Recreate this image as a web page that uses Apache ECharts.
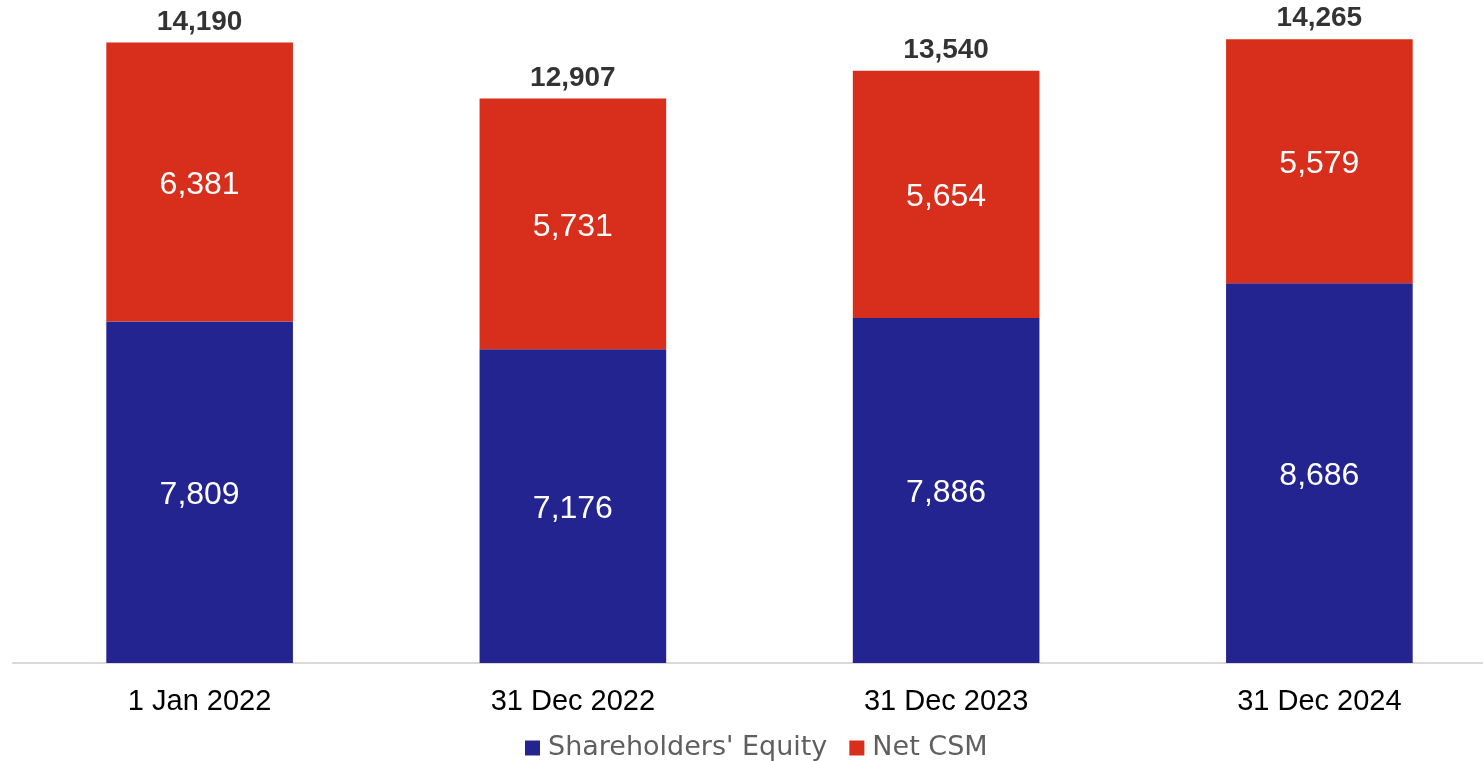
<!DOCTYPE html>
<html>
<head>
<meta charset="utf-8">
<script src="https://cdn.jsdelivr.net/npm/echarts@6/dist/echarts.min.js"></script>
<style>
  html, body { margin: 0; padding: 0; background: #ffffff; overflow: hidden; }
  #chart { width: 1510px; height: 761px; }
</style>
</head>
<body>
<div id="chart"></div>
<script>
// Reporting dates on the x axis
const categories = ['1 Jan 2022', '31 Dec 2022', '31 Dec 2023', '31 Dec 2024'];
// Stacked components
const shareholdersEquity = [7809, 7176, 7886, 8686];
const netCSM = [6381, 5731, 5654, 5579];
// Totals shown above each stack
const totals = shareholdersEquity.map((v, i) => v + netCSM[i]);

const FONT = '"Liberation Sans", Arial, sans-serif';
const fmt = v => v.toLocaleString('en-US');

const chart = echarts.init(document.getElementById('chart'), null, { renderer: 'canvas' });

chart.setOption({
  animation: false,
  backgroundColor: '#ffffff',
  grid: { left: 13, right: 4, top: 7, height: 656, containLabel: false },
  legend: {
    data: ["Shareholders' Equity", 'Net CSM'],
    left: 525,
    top: 733,
    padding: 0,
    icon: 'rect',
    itemWidth: 15,
    itemHeight: 15,
    itemGap: 22,
    textStyle: {
      fontFamily: '"DejaVu Sans", sans-serif',
      fontSize: 27,
      color: '#5f5f5f',
      lineHeight: 30,
      padding: [0, 0, 0, 3]
    }
  },
  xAxis: {
    type: 'category',
    data: categories,
    axisLine: { show: true, lineStyle: { color: '#d9d9d9', width: 2 } },
    axisTick: { show: false },
    axisLabel: { fontFamily: FONT, fontSize: 29, color: '#000000', margin: 24 }
  },
  yAxis: {
    type: 'value',
    min: 0,
    max: 15000,
    show: false,
    splitLine: { show: false }
  },
  series: [
    {
      name: "Shareholders' Equity",
      type: 'bar',
      stack: 'total',
      barWidth: '50%',
      data: shareholdersEquity,
      itemStyle: { color: '#242491' },
      label: {
        show: true,
        position: 'inside',
        offset: [0, 3],
        fontFamily: FONT,
        fontSize: 32,
        color: '#ffffff',
        formatter: p => fmt(p.value)
      }
    },
    {
      name: 'Net CSM',
      type: 'bar',
      stack: 'total',
      barWidth: '50%',
      data: netCSM,
      itemStyle: { color: '#d72f1c' },
      label: {
        show: true,
        position: 'inside',
        offset: [0, 3],
        fontFamily: FONT,
        fontSize: 32,
        color: '#ffffff',
        formatter: p => fmt(p.value)
      }
    },
    {
      // Invisible points at each stack top carrying the total label
      name: 'Total',
      type: 'scatter',
      data: totals,
      symbol: 'circle',
      symbolSize: 1,
      silent: true,
      itemStyle: { color: 'rgba(0,0,0,0)' },
      label: {
        show: true,
        position: 'top',
        distance: 6,
        fontFamily: FONT,
        fontSize: 28,
        fontWeight: 'bold',
        color: '#000000',
        formatter: p => fmt(p.value)
      }
    }
  ]
});
</script>
</body>
</html>
